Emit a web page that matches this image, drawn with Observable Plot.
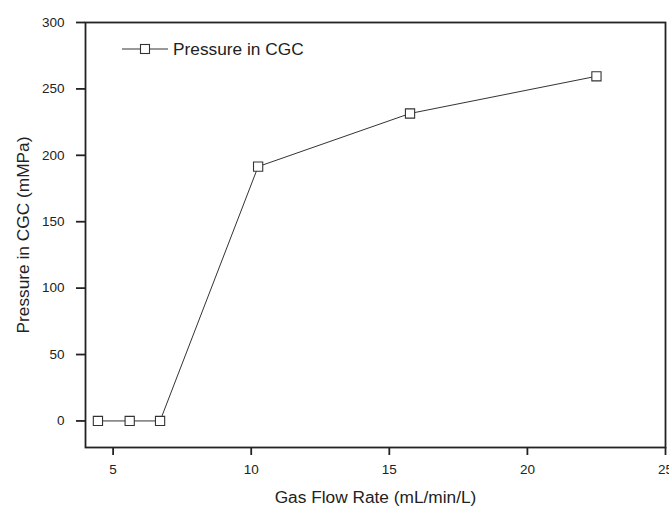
<!DOCTYPE html>
<html>
<head>
<meta charset="utf-8">
<script src="https://cdn.jsdelivr.net/npm/d3@7"></script>
<script src="https://cdn.jsdelivr.net/npm/@observablehq/plot@0.6"></script>
<style>
  body { margin: 0; background: #fff; font-family: "Liberation Sans", Arial, sans-serif; }
  #wrap { position: relative; width: 669px; height: 512px; }
  #legend { position: absolute; left: 118px; top: 39px; font-size: 17.3px; color: #222; display: flex; align-items: center; line-height: 20px; }
  #legend svg { margin-right: 3px; }
  #chart svg g[aria-label="x-axis tick label"],
  #chart svg g[aria-label="y-axis tick label"] { font-size: 13.5px; }
</style>
</head>
<body>
<div id="wrap">
  <div id="chart"></div>
  <div id="legend"></div>
</div>
<script>
const seriesName = "Pressure in CGC";
const flowRate = [4.45, 5.6, 6.7, 10.25, 15.75, 22.5];
const pressure = [0, 0, 0, 191.5, 231.5, 259.5];
const xTicks = [5, 10, 15, 20, 25];
const yTicks = [0, 50, 100, 150, 200, 250, 300];
const xLabel = "Gas Flow Rate (mL/min/L)";
const yLabel = "Pressure in CGC (mMPa)";

const data = flowRate.map((x, i) => ({x, y: pressure[i]}));
const ink = "#222";

const chart = Plot.plot({
  width: 669,
  height: 512,
  marginLeft: 85,
  marginRight: 4,
  marginTop: 22,
  marginBottom: 65,
  style: {fontFamily: "'Liberation Sans', Arial, sans-serif", fontSize: "13.5px", color: ink, background: "#fff"},
  x: {domain: [4, 25]},
  y: {domain: [-20, 300]},
  marks: [
    Plot.axisX({ticks: xTicks, tickSize: 8, tickPadding: 9, strokeWidth: 1.8, label: null, fontSize: 13.5}),
    Plot.axisY({ticks: yTicks, tickSize: 9, tickPadding: 12, strokeWidth: 1.8, label: null, fontSize: 13.5}),
    Plot.text([xLabel], {frameAnchor: "bottom", dy: 55, fontSize: 17.3, fill: ink}),
    Plot.text([yLabel], {frameAnchor: "left", textAnchor: "middle", dx: -62, rotate: -90, fontSize: 17.3, fill: ink}),
    Plot.frame({stroke: ink, strokeWidth: 1.8}),
    Plot.line(data, {x: "x", y: "y", stroke: "#333", strokeWidth: 1}),
    Plot.dot(data, {x: "x", y: "y", symbol: "square", r: 5.2, fill: "#fff", stroke: "#333", strokeWidth: 1.1})
  ]
});
document.getElementById("chart").appendChild(chart);

// Legend
const leg = document.getElementById("legend");
leg.innerHTML = `<svg width="52" height="14" viewBox="0 0 52 14">
  <line x1="4" y1="7" x2="50" y2="7" stroke="#333" stroke-width="1"/>
  <rect x="22.5" y="2.5" width="9" height="9" fill="#fff" stroke="#333" stroke-width="1.1"/>
</svg><span></span>`;
leg.querySelector("span").textContent = seriesName;
</script>
</body>
</html>
